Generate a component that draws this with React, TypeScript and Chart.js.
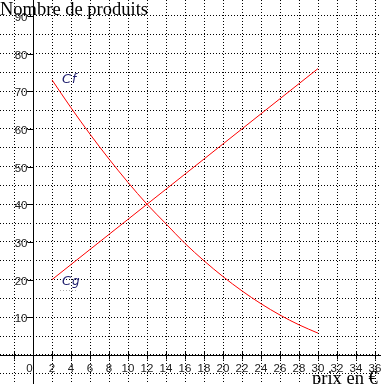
import React, { useEffect, useRef } from "react";
import { Chart, registerables } from "chart.js";

Chart.register(...registerables);

const xGridValues = [-2, 0, 2, 4, 6, 8, 10, 12, 14, 16, 18, 20, 22, 24, 26, 28, 30, 32, 34, 36];
const yGridValues = [-5, 0, 5, 10, 15, 20, 25, 30, 35, 40, 45, 50, 55, 60, 65, 70, 75, 80, 85, 90];
const xTickLabels = [2, 4, 6, 8, 10, 12, 14, 16, 18, 20, 22, 24, 26, 28, 30, 32, 34, 36];
const yTickLabels = [10, 20, 30, 40, 50, 60, 70, 80, 90];

const prices = [2, 4, 6, 8, 10, 12, 14, 16, 18, 20, 22, 24, 26, 28, 30];
const cfValues = [73, 65.6, 58.6, 52, 45.8, 40, 34.8, 29.6, 25, 20.8, 17, 13.6, 10.6, 8, 5.8];
const cgValues = [20, 24, 28, 32, 36, 40, 44, 48, 52, 56, 60, 64, 68, 72, 76];

const yAxisTitle = "Nombre de produits";
const xAxisTitle = "prix en €";
const curveLabels = [
  { name: "C", sub: "f", x: 3.05, y: 72.2 },
  { name: "C", sub: "g", x: 3.05, y: 18.6 },
];

const axesPlugin = {
  id: "axesPlugin",
  beforeDatasetsDraw(chart: any) {
    const ctx = chart.ctx;
    const xs = chart.scales.x;
    const ys = chart.scales.y;
    const x0 = Math.round(xs.getPixelForValue(0)) + 0.5;
    const y0 = Math.round(ys.getPixelForValue(0)) + 0.5;
    ctx.save();
    ctx.strokeStyle = "#000";
    ctx.lineWidth = 1;
    ctx.beginPath();
    ctx.moveTo(0, y0);
    ctx.lineTo(chart.width, y0);
    ctx.moveTo(x0, 0);
    ctx.lineTo(x0, chart.height);
    for (const v of xGridValues) {
      if (v === 0) continue;
      const px = Math.round(xs.getPixelForValue(v)) + 0.5;
      ctx.moveTo(px, y0 - 4);
      ctx.lineTo(px, y0 + 4);
    }
    for (const v of yTickLabels) {
      const py = Math.round(ys.getPixelForValue(v)) + 0.5;
      ctx.moveTo(x0 - 6, py);
      ctx.lineTo(x0, py);
    }
    ctx.stroke();

    ctx.fillStyle = "#222";
    ctx.font = "11.5px 'Liberation Sans', Arial, sans-serif";
    ctx.textBaseline = "middle";
    ctx.textAlign = "right";
    for (const v of yTickLabels) {
      const py = ys.getPixelForValue(v);
      ctx.fillText(String(v), x0 - 6, py + 2);
    }
    ctx.textAlign = "center";
    for (const v of xTickLabels) {
      const px = xs.getPixelForValue(v);
      ctx.fillText(String(v), px, y0 + 13);
    }
    ctx.fillText("0", x0 - 4, y0 + 13);
    ctx.restore();
  },
  afterDraw(chart: any) {
    const ctx = chart.ctx;
    const xs = chart.scales.x;
    const ys = chart.scales.y;
    ctx.save();
    ctx.fillStyle = "#1c1c6c";
    ctx.textBaseline = "alphabetic";
    ctx.textAlign = "left";
    curveLabels.forEach((l, i) => {
      const px = xs.getPixelForValue(l.x);
      const py = ys.getPixelForValue(l.y);
      ctx.font = "italic 13px 'DejaVu Sans', sans-serif";
      ctx.fillText(l.name, px, py);
      const w = ctx.measureText(l.name).width;
      ctx.font = "italic 12px 'DejaVu Sans', sans-serif";
      ctx.fillText(l.sub, px + w + 1, py);
      if (i === 1) {
        ctx.fillStyle = "#aaa";
        for (let dx = -2; dx < 16; dx += 3) {
          ctx.fillRect(Math.round(px + dx), Math.round(py + 5), 1, 1);
        }
        ctx.fillStyle = "#1c1c6c";
      }
    });
    ctx.fillStyle = "#000";
    ctx.font = "18.5px 'Liberation Serif', 'Times New Roman', serif";
    ctx.fillText(yAxisTitle, 0, 15);
    ctx.textAlign = "left";
    ctx.fillText(xAxisTitle, 312, 384);
    ctx.restore();
  },
};

export default function App() {
  const ref = useRef<HTMLCanvasElement>(null);
  useEffect(() => {
    if (!ref.current) return;
    const chart = new Chart(ref.current, {
      type: "line",
      data: {
        datasets: [
          {
            label: "Cf",
            data: prices.map((p, i) => ({ x: p, y: cfValues[i] })),
            borderColor: "#ff0000",
            borderWidth: 1,
            pointRadius: 0,
            cubicInterpolationMode: "monotone",
            fill: false,
          },
          {
            label: "Cg",
            data: prices.map((p, i) => ({ x: p, y: cgValues[i] })),
            borderColor: "#ff0000",
            borderWidth: 1,
            pointRadius: 0,
            fill: false,
          },
        ],
      },
      options: {
        animation: false,
        responsive: false,
        layout: { padding: 0 },
        plugins: { legend: { display: false }, tooltip: { enabled: false }, title: { display: false } },
        scales: {
          x: {
            type: "linear",
            min: -3.474,
            max: 36.63,
            afterBuildTicks: (s: any) => {
              s.ticks = xGridValues.map((v) => ({ value: v }));
            },
            ticks: { display: false },
            border: { display: false, dash: [1, 2] },
            grid: { color: "#000", lineWidth: 1, drawTicks: false },
          },
          y: {
            type: "linear",
            min: -7.7,
            max: 94.2,
            afterBuildTicks: (s: any) => {
              s.ticks = yGridValues.map((v) => ({ value: v }));
            },
            ticks: { display: false },
            border: { display: false, dash: [1, 2] },
            grid: { color: "#000", lineWidth: 1, drawTicks: false },
          },
        },
      },
      plugins: [axesPlugin],
    } as any);
    return () => chart.destroy();
  }, []);
  return (
    <div style={{ position: "fixed", left: 0, top: 0, width: 381, height: 384, background: "#fff" }}>
      <canvas ref={ref} width={381} height={384} style={{ width: 381, height: 384, display: "block" }} />
    </div>
  );
}
